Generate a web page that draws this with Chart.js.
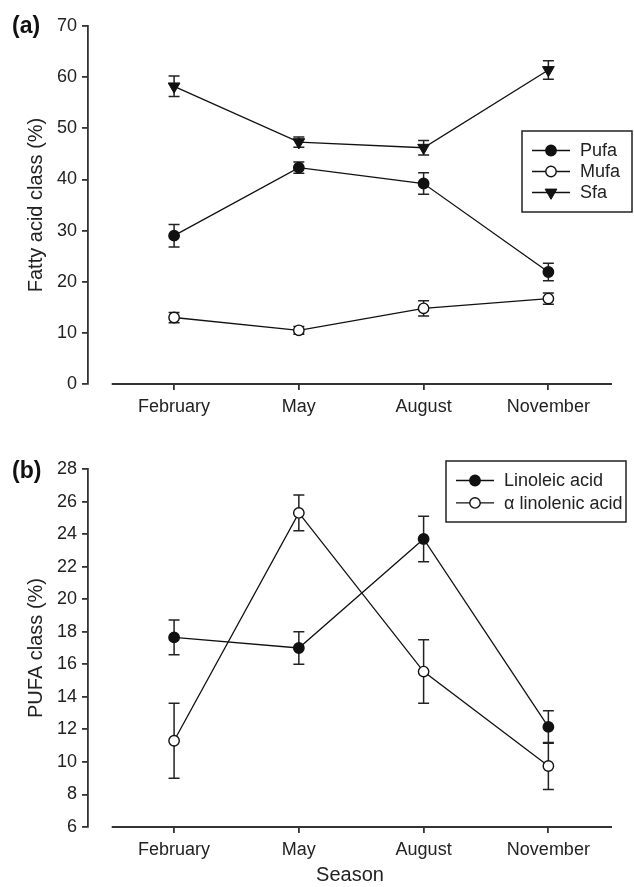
<!DOCTYPE html>
<html>
<head>
<meta charset="utf-8">
<script src="https://cdn.jsdelivr.net/npm/chart.js@4"></script>
<style>
  body { margin: 0; background: #fff; }
  #wrap { position: relative; width: 634px; height: 887px; }
  canvas { position: absolute; left: 0; }
</style>
</head>
<body>
<div id="wrap">
  <canvas id="chartA" width="634" height="440" style="top:0"></canvas>
  <canvas id="chartB" width="634" height="447" style="top:440px"></canvas>
</div>
<script>
// data
const seasons = ['February', 'May', 'August', 'November'];

const pufa = [29.0, 42.3, 39.2, 21.9];
const pufaErr = [2.2, 1.1, 2.1, 1.7];
const mufa = [13.0, 10.5, 14.8, 16.7];
const mufaErr = [1.0, 0.75, 1.5, 1.1];
const sfa = [58.2, 47.3, 46.2, 61.4];
const sfaErr = [2.0, 1.0, 1.4, 1.8];

const linoleic = [17.65, 17.0, 23.7, 12.15];
const linoleicErr = [1.07, 1.0, 1.4, 1.0];
const alphaLin = [11.3, 25.3, 15.55, 9.75];
const alphaLinErr = [2.3, 1.1, 1.95, 1.45];

const INK = '#111';
const AXIS = '#333';

Chart.defaults.font.family = "'Liberation Sans', Arial, Helvetica, sans-serif";
Chart.defaults.color = '#222';

const toPoints = arr => arr.map((v, i) => ({ x: i, y: v }));

function series(label, values, errors, style) {
    return Object.assign({
        label: label,
        data: toPoints(values),
        errors: errors,
        borderColor: INK,
        borderWidth: 1.3,
        pointBorderColor: INK,
        pointBorderWidth: 1.4,
        pointRadius: 5.2,
        pointBackgroundColor: INK,
        pointStyle: 'circle',
        tension: 0
    }, style);
}

//error bars under the markers
const errorBars = {
    id: 'errorBars',
    beforeDatasetsDraw(chart) {
        const { ctx, scales: { x, y } } = chart;
        ctx.save();
        ctx.strokeStyle = '#222';
        ctx.lineWidth = 1.5;
        chart.data.datasets.forEach(ds => {
            ds.data.forEach((p, i) => {
                const e = ds.errors[i];
                const px = x.getPixelForValue(p.x);
                const top = y.getPixelForValue(p.y + e);
                const bot = y.getPixelForValue(p.y - e);
                ctx.beginPath();
                ctx.moveTo(px, top); ctx.lineTo(px, bot);
                ctx.moveTo(px - 5.5, top); ctx.lineTo(px + 5.5, top);
                ctx.moveTo(px - 5.5, bot); ctx.lineTo(px + 5.5, bot);
                ctx.stroke();
            });
        });
        ctx.restore();
    }
};

//x axis line is detached from the y axis
const detachedAxis = {
    id: 'detachedAxis',
    afterDraw(chart) {
        const { ctx, chartArea: { bottom }, scales: { x } } = chart;
        ctx.save();
        ctx.strokeStyle = AXIS;
        ctx.lineWidth = 1.8;
        ctx.beginPath();
        ctx.moveTo(x.getPixelForValue(-0.5), bottom);
        ctx.lineTo(x.getPixelForValue(x.max), bottom);
        ctx.stroke();
        ctx.restore();
    }
};

//boxed legend with line + marker samples, and the panel letter
const boxLegend = {
    id: 'boxLegend',
    afterDraw(chart, args, opts) {
        const { ctx } = chart;
        ctx.save();
        ctx.strokeStyle = '#222';
        ctx.lineWidth = 1.5;
        ctx.strokeRect(opts.box[0], opts.box[1], opts.box[2], opts.box[3]);
        ctx.font = "18px 'Liberation Sans', Arial, sans-serif";
        ctx.textBaseline = 'middle';
        ctx.textAlign = 'left';
        chart.data.datasets.forEach((ds, i) => {
            const yy = opts.rowY + i * opts.rowGap;
            ctx.strokeStyle = INK;
            ctx.lineWidth = 1.3;
            ctx.beginPath();
            ctx.moveTo(opts.lineX, yy);
            ctx.lineTo(opts.lineX + 38, yy);
            ctx.stroke();
            ctx.fillStyle = ds.pointBackgroundColor;
            ctx.strokeStyle = ds.pointBorderColor;
            ctx.lineWidth = ds.pointBorderWidth;
            Chart.helpers.drawPoint(ctx, {
                pointStyle: ds.pointStyle,
                rotation: ds.pointRotation || 0,
                radius: ds.pointRadius,
                borderWidth: ds.pointBorderWidth
            }, opts.lineX + 19, yy);
            ctx.fillStyle = '#222';
            ctx.fillText(ds.label, opts.lineX + 48, yy + 1);
        });
        ctx.font = "bold 23px 'Liberation Sans', Arial, sans-serif";
        ctx.fillStyle = '#111';
        ctx.fillText(opts.panel, 12, opts.panelY);
        ctx.restore();
    }
};

function makeScales(yMin, yMax, yStep, yTitle, xTitle, xHeight) {
    return {
        x: {
            type: 'linear',
            min: -0.69,
            max: 3.51,
            afterBuildTicks: s => { s.ticks = seasons.map((c, i) => ({ value: i })); },
            afterFit: s => { s.height = xHeight; },
            ticks: {
                font: { size: 18 },
                padding: 6,
                maxRotation: 0,
                callback: v => seasons[v]
            },
            grid: { drawOnChartArea: false, drawTicks: true, tickLength: 6, color: AXIS, lineWidth: 1.8 },
            border: { display: false },
            title: {
                display: !!xTitle,
                text: xTitle || '',
                font: { size: 20 },
                padding: { top: 0, bottom: 0 }
            }
        },
        y: {
            min: yMin,
            max: yMax,
            afterFit: s => { s.width = 88; },
            ticks: { stepSize: yStep, font: { size: 18 }, padding: 5 },
            grid: { drawOnChartArea: false, drawTicks: true, tickLength: 6, color: AXIS, lineWidth: 1.8 },
            border: { display: true, color: AXIS, width: 1.8 },
            title: {
                display: true,
                text: yTitle,
                font: { size: 20 },
                padding: { top: 24, bottom: 0 }
            }
        }
    };
}

// panel (a)
new Chart(document.getElementById('chartA'), {
    type: 'line',
    data: {
        datasets: [
            series('Pufa', pufa, pufaErr, {}),
            series('Mufa', mufa, mufaErr, { pointBackgroundColor: '#fff' }),
            series('Sfa', sfa, sfaErr, { pointStyle: 'triangle', pointRotation: 180, pointRadius: 6.8, pointBorderWidth: 1 })
        ]
    },
    options: {
        responsive: false,
        animation: false,
        events: [],
        layout: { padding: { left: 0, right: 22, top: 26, bottom: 0 } },
        scales: makeScales(0, 70, 10, 'Fatty acid class (%)', null, 56),
        plugins: {
            legend: { display: false },
            tooltip: { enabled: false },
            boxLegend: { box: [522, 131, 110, 81], rowY: 150.5, rowGap: 21, lineX: 532, panel: '(a)', panelY: 27 }
        }
    },
    plugins: [errorBars, detachedAxis, boxLegend]
});

// panel (b)
new Chart(document.getElementById('chartB'), {
    type: 'line',
    data: {
        datasets: [
            series('Linoleic acid', linoleic, linoleicErr, {}),
            series('α linolenic acid', alphaLin, alphaLinErr, { pointBackgroundColor: '#fff' })
        ]
    },
    options: {
        responsive: false,
        animation: false,
        events: [],
        layout: { padding: { left: 0, right: 22, top: 29, bottom: 0 } },
        scales: makeScales(6, 28, 2, 'PUFA class (%)', 'Season', 60),
        plugins: {
            legend: { display: false },
            tooltip: { enabled: false },
            boxLegend: { box: [446, 21, 180, 61], rowY: 40.5, rowGap: 22.4, lineX: 456, panel: '(b)', panelY: 32 }
        }
    },
    plugins: [errorBars, detachedAxis, boxLegend]
});
</script>
</body>
</html>
